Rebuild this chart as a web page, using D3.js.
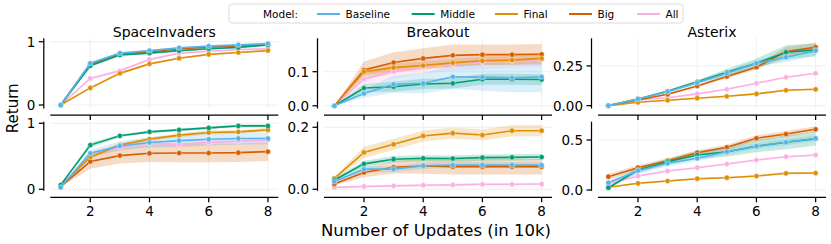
<!DOCTYPE html>
<html>
<head>
<meta charset="utf-8">
<script src="https://cdn.jsdelivr.net/npm/d3@7"></script>
<style>
  html, body { margin: 0; padding: 0; background: #fff; }
  svg { display: block; font-family: "DejaVu Sans", sans-serif; }
</style>
</head>
<body>
<svg id="chart" width="831" height="244"></svg>
<script>
// ---------------- DATA ----------------
const updates = [1, 2, 3, 4, 5, 6, 7, 8];
const models = ["Baseline", "Middle", "Final", "Big", "All"];
const games = ["SpaceInvaders", "Breakout", "Asterix"];
const xTicks = [2, 4, 6, 8];

// rows: Baseline, Middle, Final, Big, All
const siTopMean = [
  [0, 0.66, 0.82, 0.86, 0.905, 0.93, 0.95, 0.97],
  [0, 0.62, 0.79, 0.82, 0.86, 0.89, 0.91, 0.95],
  [0, 0.27, 0.50, 0.65, 0.74, 0.80, 0.83, 0.86],
  [0, 0.64, 0.81, 0.84, 0.89, 0.915, 0.935, 0.96],
  [0, 0.42, 0.54, 0.72, 0.82, 0.85, 0.875, 0.89]
];
const siTopBand = [
  [0, 0.01, 0.01, 0.01, 0.01, 0.01, 0.01, 0.01],
  [0, 0.015, 0.015, 0.015, 0.015, 0.015, 0.015, 0.015],
  [0, 0.012, 0.012, 0.012, 0.012, 0.012, 0.012, 0.012],
  [0, 0.01, 0.01, 0.01, 0.01, 0.01, 0.01, 0.01],
  [0, 0.02, 0.03, 0.02, 0.015, 0.015, 0.015, 0.015]
];
const brTopMean = [
  [0, 0.036, 0.063, 0.066, 0.085, 0.084, 0.082, 0.085],
  [0, 0.052, 0.056, 0.064, 0.066, 0.078, 0.078, 0.077],
  [0, 0.100, 0.112, 0.118, 0.126, 0.132, 0.134, 0.139],
  [0, 0.105, 0.127, 0.139, 0.148, 0.150, 0.150, 0.151],
  [0, 0.078, 0.100, 0.115, 0.123, 0.128, 0.132, 0.136]
];
const brTopBand = [
  [0, 0.012, 0.025, 0.03, 0.035, 0.04, 0.042, 0.045],
  [0, 0.012, 0.015, 0.015, 0.015, 0.016, 0.016, 0.016],
  [0, 0.01, 0.012, 0.012, 0.012, 0.012, 0.012, 0.012],
  [0, 0.025, 0.03, 0.03, 0.032, 0.03, 0.03, 0.03],
  [0, 0.02, 0.02, 0.02, 0.02, 0.02, 0.02, 0.02]
];
const asTopMean = [
  [0, 0.042, 0.088, 0.145, 0.204, 0.267, 0.305, 0.346],
  [0, 0.042, 0.090, 0.150, 0.210, 0.267, 0.336, 0.351],
  [0, 0.021, 0.034, 0.047, 0.059, 0.074, 0.097, 0.103],
  [0, 0.036, 0.072, 0.124, 0.183, 0.242, 0.340, 0.368],
  [0, 0.036, 0.050, 0.074, 0.103, 0.141, 0.179, 0.204]
];
const asTopBand = [
  [0, 0.005, 0.008, 0.01, 0.015, 0.02, 0.03, 0.03],
  [0, 0.005, 0.008, 0.012, 0.02, 0.03, 0.045, 0.04],
  [0, 0.003, 0.004, 0.004, 0.005, 0.005, 0.005, 0.005],
  [0, 0.004, 0.006, 0.008, 0.01, 0.015, 0.03, 0.03],
  [0, 0.003, 0.004, 0.005, 0.005, 0.005, 0.005, 0.005]
];
const siBotMean = [
  [0.03, 0.545, 0.656, 0.71, 0.737, 0.757, 0.77, 0.77],
  [0.065, 0.67, 0.81, 0.87, 0.90, 0.93, 0.96, 0.96],
  [0.05, 0.49, 0.67, 0.76, 0.82, 0.86, 0.87, 0.90],
  [0.04, 0.42, 0.51, 0.545, 0.55, 0.55, 0.555, 0.57],
  [0.05, 0.52, 0.64, 0.70, 0.68, 0.71, 0.73, 0.745]
];
const siBotBand = [
  [0.01, 0.05, 0.07, 0.08, 0.09, 0.09, 0.09, 0.09],
  [0.01, 0.04, 0.02, 0.02, 0.02, 0.02, 0.02, 0.02],
  [0.01, 0.03, 0.03, 0.03, 0.03, 0.03, 0.03, 0.03],
  [0.01, 0.11, 0.12, 0.13, 0.14, 0.14, 0.14, 0.14],
  [0.01, 0.05, 0.05, 0.05, 0.05, 0.05, 0.05, 0.05]
];
const brBotMean = [
  [0.025, 0.065, 0.065, 0.076, 0.078, 0.078, 0.078, 0.078],
  [0.030, 0.082, 0.097, 0.100, 0.099, 0.102, 0.103, 0.104],
  [0.035, 0.119, 0.145, 0.172, 0.181, 0.175, 0.189, 0.189],
  [0.017, 0.054, 0.071, 0.075, 0.073, 0.073, 0.073, 0.073],
  [0.006, 0.009, 0.011, 0.013, 0.014, 0.016, 0.016, 0.017]
];
const brBotBand = [
  [0.004, 0.01, 0.01, 0.01, 0.01, 0.01, 0.01, 0.01],
  [0.004, 0.01, 0.01, 0.01, 0.01, 0.01, 0.01, 0.01],
  [0.005, 0.018, 0.018, 0.018, 0.018, 0.018, 0.018, 0.018],
  [0.004, 0.015, 0.02, 0.025, 0.025, 0.025, 0.025, 0.025],
  [0.002, 0.004, 0.004, 0.004, 0.004, 0.004, 0.004, 0.004]
];
const asBotMean = [
  [0.073, 0.193, 0.267, 0.317, 0.383, 0.440, 0.477, 0.517],
  [0.023, 0.200, 0.283, 0.350, 0.383, 0.437, 0.477, 0.513],
  [0.027, 0.067, 0.090, 0.113, 0.123, 0.140, 0.167, 0.170],
  [0.133, 0.223, 0.293, 0.373, 0.427, 0.517, 0.560, 0.607],
  [0.063, 0.140, 0.190, 0.223, 0.260, 0.300, 0.333, 0.350]
];
const asBotBand = [
  [0.02, 0.03, 0.03, 0.03, 0.03, 0.03, 0.03, 0.03],
  [0.01, 0.03, 0.03, 0.04, 0.05, 0.06, 0.07, 0.07],
  [0.005, 0.01, 0.01, 0.01, 0.01, 0.01, 0.012, 0.012],
  [0.03, 0.025, 0.025, 0.025, 0.025, 0.03, 0.03, 0.03],
  [0.01, 0.01, 0.01, 0.01, 0.01, 0.01, 0.01, 0.01]
];

const yTicksTop = [[0, 1], [0.0, 0.1], [0.00, 0.25]];
const yTicksBot = [[0, 1], [0.0, 0.2], [0.0, 0.5]];
const yFormats = ["d", ".1f", ".2f", "d", ".1f", ".1f"];
const yDomains = [
  [-0.055, 1.054], [-0.008, 0.198], [-0.018, 0.424],
  [-0.023, 1.024], [-0.005, 0.218], [-0.008, 0.683]
];

// ---------------- STYLE / LAYOUT ----------------
const colors = ["#56b4e9", "#029e73", "#de8f05", "#d55e00", "#fbafe4"];
const colLeft = [50.3, 324, 598];
const plotW = 228;
const rowTop = [38.3, 121.7];
const rowBottom = [108.5, 190.8];
const spineOff = 6.5;
const tickLen = 5;

const svg = d3.select("#chart");

const panels = [
  {row: 0, col: 0, mean: siTopMean, band: siTopBand, ticks: yTicksTop[0]},
  {row: 0, col: 1, mean: brTopMean, band: brTopBand, ticks: yTicksTop[1]},
  {row: 0, col: 2, mean: asTopMean, band: asTopBand, ticks: yTicksTop[2]},
  {row: 1, col: 0, mean: siBotMean, band: siBotBand, ticks: yTicksBot[0]},
  {row: 1, col: 1, mean: brBotMean, band: brBotBand, ticks: yTicksBot[1]},
  {row: 1, col: 2, mean: asBotMean, band: asBotBand, ticks: yTicksBot[2]}
];

panels.forEach((p, i) => {
  const x0 = colLeft[p.col], x1 = x0 + plotW;
  const yTop = rowTop[p.row], yBot = rowBottom[p.row];
  const x = d3.scaleLinear().domain([0.65, 8.35]).range([x0, x1]);
  const y = d3.scaleLinear().domain(yDomains[i]).range([yBot, yTop]);
  const g = svg.append("g");

  // grid
  g.selectAll(null).data(xTicks).enter().append("line")
    .attr("x1", d => x(d)).attr("x2", d => x(d))
    .attr("y1", yTop).attr("y2", yBot)
    .attr("stroke", "#ebebeb").attr("stroke-width", 0.8);
  g.selectAll(null).data(p.ticks).enter().append("line")
    .attr("x1", x0).attr("x2", x1)
    .attr("y1", d => y(d)).attr("y2", d => y(d))
    .attr("stroke", "#ebebeb").attr("stroke-width", 0.8);

  const clipId = "clip" + i;
  svg.append("clipPath").attr("id", clipId).append("rect")
    .attr("x", x0).attr("y", yTop).attr("width", plotW).attr("height", yBot - yTop);
  const pg = g.append("g").attr("clip-path", `url(#${clipId})`);

  const order = [4, 3, 2, 1, 0];
  // bands
  order.forEach(s => {
    const area = d3.area()
      .x((d, k) => x(updates[k]))
      .y0((d, k) => y(p.mean[s][k] - p.band[s][k]))
      .y1((d, k) => y(p.mean[s][k] + p.band[s][k]));
    pg.append("path").datum(p.mean[s]).attr("d", area)
      .attr("fill", colors[s]).attr("fill-opacity", 0.22).attr("stroke", "none");
  });
  // lines + markers
  order.forEach(s => {
    const line = d3.line().x((d, k) => x(updates[k])).y(d => y(d));
    pg.append("path").datum(p.mean[s]).attr("d", line)
      .attr("fill", "none").attr("stroke", colors[s]).attr("stroke-width", 1.6);
    pg.selectAll(null).data(p.mean[s]).enter().append("circle")
      .attr("cx", (d, k) => x(updates[k])).attr("cy", d => y(d))
      .attr("r", 2.6).attr("fill", colors[s])
      .attr("stroke", "#fff").attr("stroke-width", 0.4);
  });

  // left spine + y ticks
  const sx = x0 - spineOff;
  g.append("line").attr("x1", sx).attr("x2", sx).attr("y1", yTop).attr("y2", yBot)
    .attr("stroke", "#000").attr("stroke-width", 1.25);
  const fmt = d3.format(yFormats[i]);
  p.ticks.forEach(t => {
    g.append("line").attr("x1", sx - tickLen).attr("x2", sx)
      .attr("y1", y(t)).attr("y2", y(t)).attr("stroke", "#000").attr("stroke-width", 1.25);
    g.append("text").attr("x", sx - tickLen - 3.5).attr("y", y(t))
      .attr("dy", "0.36em").attr("text-anchor", "end")
      .attr("font-size", 13.5).attr("fill", "#000").text(fmt(t));
  });

  // bottom spine + x ticks
  const sy = yBot + spineOff;
  g.append("line").attr("x1", x0).attr("x2", x1).attr("y1", sy).attr("y2", sy)
    .attr("stroke", "#000").attr("stroke-width", 1.25);
  xTicks.forEach(t => {
    g.append("line").attr("x1", x(t)).attr("x2", x(t))
      .attr("y1", sy).attr("y2", sy + tickLen).attr("stroke", "#000").attr("stroke-width", 1.25);
    if (p.row === 1) {
      g.append("text").attr("x", x(t)).attr("y", sy + tickLen + 14)
        .attr("text-anchor", "middle").attr("font-size", 13.5).attr("fill", "#000").text(t);
    }
  });

  if (p.row === 0) {
    svg.append("text").attr("x", (x0 + x1) / 2).attr("y", 36.5)
      .attr("text-anchor", "middle").attr("font-size", 14).attr("fill", "#000")
      .text(games[p.col]);
  }
});

// axis labels
svg.append("text").attr("x", (colLeft[1] + colLeft[1] + plotW) / 2 - 2).attr("y", 235.5)
  .attr("text-anchor", "middle").attr("font-size", 16.5).attr("fill", "#000")
  .text("Number of Updates (in 10k)");
svg.append("text").attr("transform", "translate(17.8,108.3) rotate(-90)")
  .attr("text-anchor", "middle").attr("font-size", 15).attr("fill", "#000")
  .text("Return");

// legend
const lg = svg.append("g");
lg.append("rect").attr("x", 229).attr("y", 4).attr("width", 454).attr("height", 19)
  .attr("rx", 3).attr("fill", "#fff").attr("fill-opacity", 0.8)
  .attr("stroke", "#d0d0d0").attr("stroke-width", 0.8);
lg.append("text").attr("x", 263).attr("y", 17.8).attr("font-size", 10.5).attr("fill", "#000").text("Model:");
const handleX = [317, 411.7, 495, 569, 637];
models.forEach((m, s) => {
  lg.append("line").attr("x1", handleX[s]).attr("x2", handleX[s] + 23)
    .attr("y1", 14).attr("y2", 14).attr("stroke", colors[s]).attr("stroke-width", 2);
  lg.append("text").attr("x", handleX[s] + 28.5).attr("y", 17.8)
    .attr("font-size", 10.5).attr("fill", "#000").text(m);
});
</script>
</body>
</html>
